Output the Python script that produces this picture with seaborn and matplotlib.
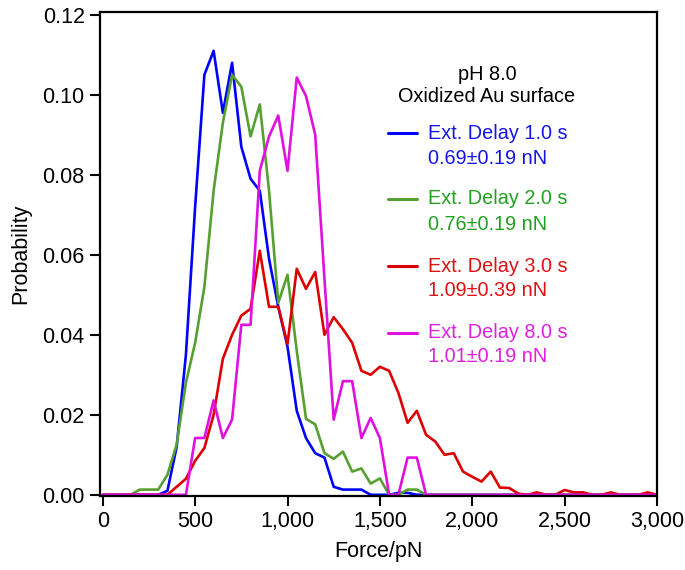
import pandas as pd
import matplotlib
matplotlib.use("Agg")
import matplotlib.pyplot as plt
import seaborn as sns

# 力のビン (pN)
force = list(range(0, 3001, 50))

# 各遅延時間の確率分布
delay_1s = [
    0, 0, 0, 0, 0, 0, 0, 0.001, 0.012, 0.035,
    0.072, 0.105, 0.111, 0.0955, 0.108, 0.087, 0.079, 0.076, 0.059, 0.047,
    0.037, 0.021, 0.0142, 0.0104, 0.0093, 0.002, 0.0013, 0.0013, 0.0013, 0,
    0, 0, 0.0005, 0.0005, 0, 0, 0, 0, 0, 0,
    0, 0, 0, 0, 0, 0, 0, 0, 0, 0,
    0, 0, 0, 0, 0, 0, 0, 0, 0, 0,
    0,
]
delay_2s = [
    0, 0, 0, 0, 0.0013, 0.0013, 0.0013, 0.005, 0.0126, 0.028,
    0.038, 0.052, 0.076, 0.093, 0.105, 0.102, 0.0896, 0.0976, 0.076, 0.048,
    0.055, 0.036, 0.019, 0.0176, 0.0104, 0.009, 0.0108, 0.0058, 0.0066, 0.0028,
    0.0041, 0, 0, 0.0013, 0.0013, 0, 0, 0, 0, 0,
    0, 0, 0, 0, 0, 0, 0, 0, 0, 0,
    0, 0, 0, 0, 0, 0, 0, 0, 0, 0,
    0,
]
delay_3s = [
    0, 0, 0, 0, 0, 0, 0, 0, 0.002, 0.004,
    0.0085, 0.0117, 0.020, 0.034, 0.040, 0.0448, 0.0465, 0.061, 0.047, 0.047,
    0.0377, 0.0565, 0.0515, 0.0557, 0.040, 0.0444, 0.0414, 0.038, 0.031, 0.030,
    0.032, 0.031, 0.0255, 0.018, 0.021, 0.015, 0.0133, 0.010, 0.0104, 0.0058,
    0.0045, 0.0033, 0.0058, 0.0018, 0.0017, 0.0003, 0, 0.0006, 0, 0,
    0.0012, 0.0006, 0.0006, 0, 0, 0.0006, 0, 0, 0, 0.0006,
    0,
]
delay_8s = [
    0, 0, 0, 0, 0, 0, 0, 0, 0, 0,
    0.0142, 0.0142, 0.0236, 0.0142, 0.0188, 0.0425, 0.0425, 0.081, 0.0896, 0.0948,
    0.081, 0.1043, 0.0997, 0.090, 0.054, 0.0188, 0.0284, 0.0284, 0.0142, 0.0192,
    0.0142, 0, 0, 0.0093, 0.0093, 0, 0, 0, 0, 0,
    0, 0, 0, 0, 0, 0, 0, 0, 0, 0,
    0, 0, 0, 0, 0, 0, 0, 0, 0, 0,
    0,
]

labels = ["Ext. Delay 1.0 s", "Ext. Delay 2.0 s", "Ext. Delay 3.0 s", "Ext. Delay 8.0 s"]
means = ["0.69\u00b10.19 nN", "0.76\u00b10.19 nN", "1.09\u00b10.39 nN", "1.01\u00b10.19 nN"]
line_colors = ["#0000ff", "#55a030", "#dd0000", "#e010e0"]
text_colors = ["#1515e6", "#22a022", "#dd1111", "#e020e0"]

df = pd.concat(
    [
        pd.DataFrame({"Force": force, "Probability": vals, "Delay": lab})
        for lab, vals in zip(labels, [delay_1s, delay_2s, delay_3s, delay_8s])
    ]
)

sns.set_theme(style="ticks")
plt.rcParams["font.family"] = ["Liberation Sans", "DejaVu Sans"]
plt.rcParams["text.color"] = "black"
plt.rcParams["axes.labelcolor"] = "black"

fig = plt.figure(figsize=(6.85, 5.7), dpi=100)
ax = fig.add_axes([100 / 685, 1 - 496 / 570, 557 / 685, 484 / 570])

sns.lineplot(
    data=df, x="Force", y="Probability", hue="Delay", hue_order=labels,
    palette=dict(zip(labels, line_colors)), linewidth=1.9, legend=False, ax=ax,
)

ax.set_xlim(-15, 3000)
ax.set_ylim(-0.0003, 0.1207)
ax.set_xticks(range(0, 3001, 500))
ax.set_xticklabels([f"{v:,}" for v in range(0, 3001, 500)])
ax.set_yticks([0, 0.02, 0.04, 0.06, 0.08, 0.10, 0.12])
ax.set_yticklabels(["0.00", "0.02", "0.04", "0.06", "0.08", "0.10", "0.12"])
ax.tick_params(axis="both", direction="out", length=7, width=1.5, labelsize=15.5,
               colors="black", pad=4)
for s in ax.spines.values():
    s.set_linewidth(1.6)
    s.set_color("black")
ax.set_xlabel("Force/pN", fontsize=15.5, labelpad=6, color="black")
ax.set_ylabel("Probability", fontsize=15.5, labelpad=8, color="black")

# 注釈（凡例風）
def fx(px):
    return px / 685


def fy(py):
    return 1 - py / 570


fig.text(fx(487), fy(74), "pH 8.0", ha="center", va="center", fontsize=14.3, color="black")
fig.text(fx(487), fy(97), "Oxidized Au surface", ha="center", va="center",
         fontsize=14.3, color="black")
rows = [(133, 158), (199, 225), (266, 291), (333, 357)]
for (y1, y2), lab, m, lc, tc in zip(rows, labels, means, line_colors, text_colors):
    fig.add_artist(plt.Line2D([fx(388), fx(417)], [fy(y1), fy(y1)], color=lc, linewidth=2.2))
    fig.text(fx(428), fy(y1), lab, ha="left", va="center", fontsize=14.3, color=tc)
    fig.text(fx(428), fy(y2), m, ha="left", va="center", fontsize=14.3, color=tc)

fig.savefig("out.png", dpi=100)
